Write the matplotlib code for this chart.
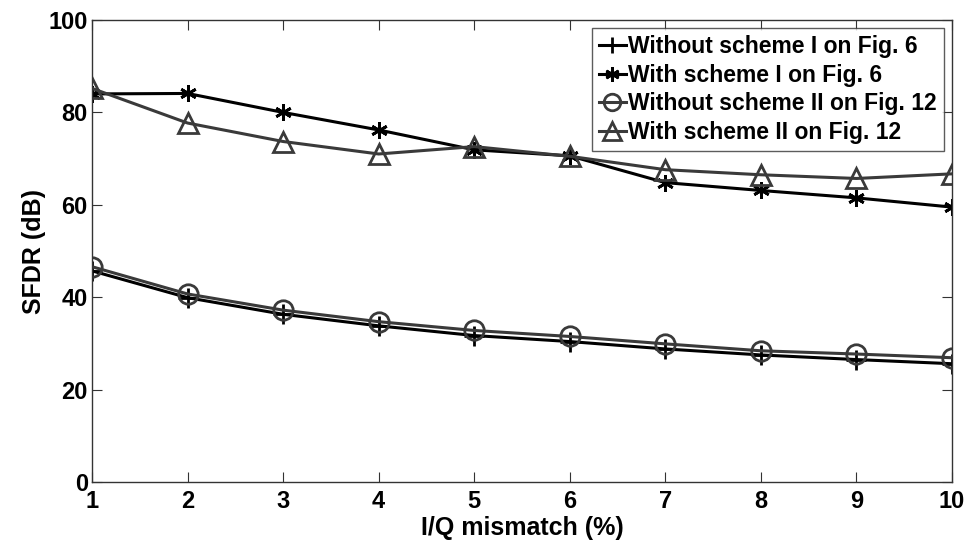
import numpy as np
import matplotlib
matplotlib.use('Agg')
import matplotlib.pyplot as plt

plt.rcParams['font.family'] = ['Liberation Sans', 'DejaVu Sans']
plt.rcParams['font.weight'] = 'bold'

mismatch = [1, 2, 3, 4, 5, 6, 7, 8, 9, 10]

without_scheme1 = [45.7, 39.9, 36.3, 33.8, 31.7, 30.4, 28.8, 27.5, 26.5, 25.6]
with_scheme1    = [84.0, 84.1, 80.0, 76.2, 71.9, 70.6, 64.8, 63.1, 61.5, 59.5]
without_scheme2 = [46.6, 40.7, 37.2, 34.7, 32.8, 31.5, 29.9, 28.4, 27.7, 26.9]
with_scheme2    = [85.2, 77.7, 73.7, 71.0, 72.6, 70.5, 67.6, 66.5, 65.7, 66.7]

labels = ['Without scheme I on Fig. 6',
          'With scheme I on Fig. 6',
          'Without scheme II on Fig. 12',
          'With scheme II on Fig. 12']

black = '#000000'
grey = '#3a3a3a'

fig = plt.figure(figsize=(9.68, 5.43), dpi=100)
ax = fig.add_axes([92 / 968, 61 / 543, 860 / 968, 462 / 543])

ax.plot(mismatch, without_scheme1, color=black, lw=2.2, marker='+',
        ms=14, mew=2, label=labels[0])
ax.plot(mismatch, with_scheme1, color=black, lw=2.2, marker=(6, 2, 0),
        ms=12, mew=2, label=labels[1])
ax.plot(mismatch, without_scheme2, color=grey, lw=2.2, marker='o',
        ms=14, mew=2, mfc='none', label=labels[2])
ax.plot(mismatch, with_scheme2, color=grey, lw=2.2, marker='^',
        ms=15, mew=2, mfc='none', label=labels[3])

ax.set_xlim(1, 10)
ax.set_ylim(0, 100)
ax.set_xticks(mismatch)
ax.set_yticks([0, 20, 40, 60, 80, 100])
ax.tick_params(direction='in', top=True, right=True, length=7,
               labelsize=17, color='#333333', pad=3)
ax.tick_params(axis='x', pad=6)
for lab in ax.get_xticklabels() + ax.get_yticklabels():
    lab.set_fontweight('bold')
for s in ax.spines.values():
    s.set_color('#333333')
    s.set_linewidth(1)

ax.set_xlabel('I/Q mismatch (%)', fontsize=18, fontweight='bold', labelpad=2)
ax.set_ylabel('SFDR (dB)', fontsize=18, fontweight='bold', labelpad=2)

leg = ax.legend(loc='upper right', handlelength=1.2, markerscale=0.85,
                handletextpad=0.1, borderpad=0.3, labelspacing=0.25,
                fancybox=False, edgecolor='#333333', borderaxespad=0.35,
                prop={'weight': 'bold', 'size': 16.5})
leg.get_frame().set_linewidth(1)

fig.savefig('out.png', dpi=100)
